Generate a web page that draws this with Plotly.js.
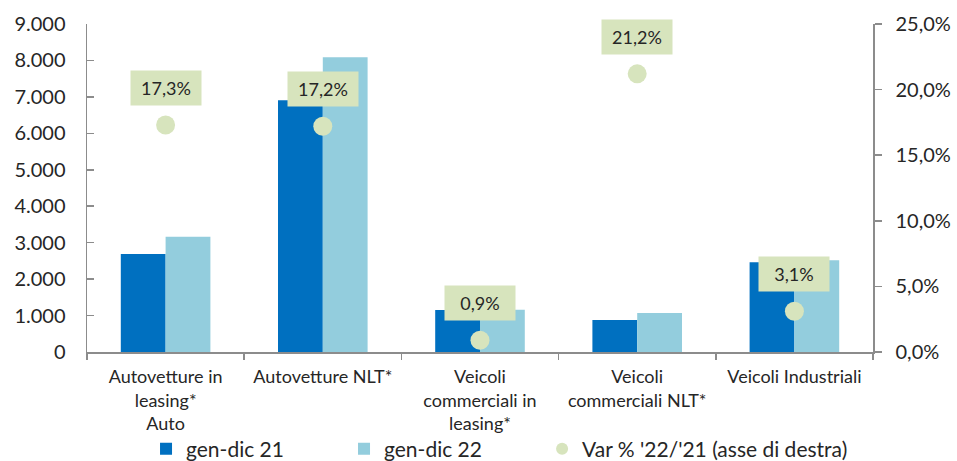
<!DOCTYPE html>
<html><head><meta charset="utf-8">
<script src="https://cdn.plot.ly/plotly-3.0.1.min.js"></script>
<style>body{margin:0;background:#fff}#chart{width:957px;height:461px}</style>
</head><body><div id="chart"></div>
<script>
const categories = ["Autovetture in<br>leasing*<br>Auto", "Autovetture NLT*", "Veicoli<br>commerciali in<br>leasing*", "Veicoli<br>commerciali NLT*", "Veicoli Industriali"];
const gendic21 = [2690, 6910, 1150, 880, 2460];
const gendic22 = [3160, 8090, 1160, 1070, 2520];
const varPct = [0.173, 0.172, 0.009, 0.212, 0.031];
const seriesNames = ["gen-dic 21", "gen-dic 22", "Var % '22/'21 (asse di destra)"];

const FONT = "Lato, 'Open Sans', sans-serif";
const axisGrey = "#8c8c8c";
const txt = "#262626";

const traces = [
  {type: "bar", name: seriesNames[0], x: categories, y: gendic21, marker: {color: "#0070C0"}, hoverinfo: "none", legend: "legend"},
  {type: "bar", name: seriesNames[1], x: categories, y: gendic22, marker: {color: "#93CDDD"}, hoverinfo: "none", legend: "legend2"},
  {type: "scatter", mode: "markers", name: seriesNames[2], x: categories, y: varPct, yaxis: "y2",
   marker: {color: "#D7E4BD", size: 19}, hoverinfo: "none", legend: "legend3"}
];

const annotations = categories.map((c, i) => ({
  x: c, y: varPct[i], xref: "x", yref: "y2", yshift: 37, showarrow: false,
  text: (varPct[i] * 100).toFixed(1).replace(".", ",") + "%",
  bgcolor: "#D7E4BD", width: 70, height: 34, borderpad: 0,
  font: {family: FONT, size: 18, color: txt}
}));

function leg(x) {
  return {orientation: "h", x: x, xanchor: "left", xref: "paper", y: 1 - 449/461, yref: "container", yanchor: "middle",
          font: {family: FONT, size: 21, color: txt}, itemsizing: "constant", bgcolor: "rgba(0,0,0,0)", borderwidth: 0};
}

const layout = {
  width: 957, height: 461,
  margin: {l: 87, r: 84, t: 24, b: 109},
  separators: ",.",
  paper_bgcolor: "#fff", plot_bgcolor: "#fff",
  barmode: "group", bargap: 0.43, bargroupgap: 0,
  font: {family: FONT, color: txt},
  showlegend: true,
  legend: leg(0.0751),
  legend2: leg(0.327),
  legend3: leg(0.579),
  xaxis: {type: "category", showline: true, linecolor: axisGrey, linewidth: 1.5,
          ticks: "outside", tickson: "boundaries", ticklen: 6, tickcolor: axisGrey, tickwidth: 1.5,
          tickfont: {family: FONT, size: 18, color: txt}, ticklabelstandoff: 8,
          showgrid: false, zeroline: false, fixedrange: true, automargin: false},
  yaxis: {range: [0, 9000], dtick: 1000, tickformat: ",d", showline: true, linecolor: axisGrey, linewidth: 1.5,
          ticks: "inside", ticklen: 7, tickcolor: axisGrey, tickwidth: 1.5,
          tickfont: {family: FONT, size: 20, color: txt}, ticklabelstandoff: 16,
          showgrid: false, zeroline: false, fixedrange: true, automargin: false},
  yaxis2: {range: [0, 0.25], dtick: 0.05, tickformat: ".1%", overlaying: "y", side: "right",
           showline: true, linecolor: axisGrey, linewidth: 1.5,
           ticks: "outside", ticklen: 7, tickcolor: axisGrey, tickwidth: 1.5,
           tickfont: {family: FONT, size: 20, color: txt}, ticklabelstandoff: 10,
           showgrid: false, zeroline: false, fixedrange: true, automargin: false},
  annotations: annotations
};

Plotly.newPlot("chart", traces, layout, {displayModeBar: false, staticPlot: true});
</script></body></html>
